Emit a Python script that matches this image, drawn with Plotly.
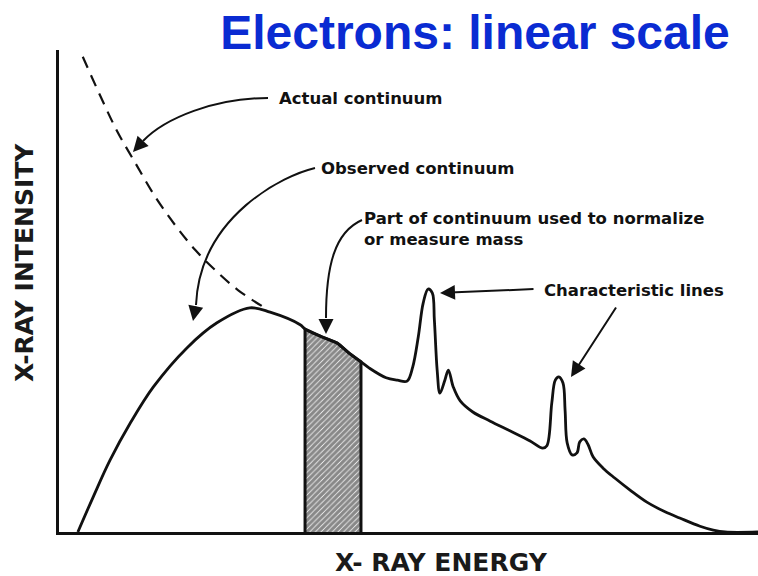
import plotly.graph_objects as go

# Observed X-ray spectrum (arbitrary units): bremsstrahlung hump plus two characteristic doublets
energy = [2.7, 4.9, 7.3, 10.2, 13.5, 18.3, 22.6, 27.3, 30.2, 34.5, 35.2, 37.6, 39.8, 41.5,
          43.2, 44.4, 46.8, 48.4, 49.8, 50.6, 51.4, 52.1, 52.8, 53.4, 53.7, 54.1, 54.5, 55.2,
          55.7, 56.4, 57.4, 59.2, 61.7, 64.5, 67.4, 69.2, 69.8, 70.5, 71.0, 71.5, 72.1, 72.4,
          72.7, 73.4, 74.1, 74.5, 75.1, 75.7, 76.4, 77.8, 79.5, 81.7, 84.1, 86.7, 88.8, 91.7,
          93.6, 95.3, 100]
observed = [0, 7.3, 14.9, 22.6, 30.1, 38.2, 43.4, 46.5, 45.6, 43.0, 42.1, 40.5, 39.2, 37.1,
            35.3, 34.0, 32.0, 31.5, 31.3, 34.2, 40.5, 47.5, 50.4, 49.6, 44.0, 33.6, 28.8, 31.5,
            33.6, 30.1, 27.2, 24.9, 23.0, 21.0, 18.9, 17.4, 17.9, 26.8, 31.5, 32.2, 30.9, 25.3,
            18.5, 16.0, 16.4, 18.7, 19.3, 18.1, 15.6, 13.3, 11.2, 8.7, 6.2, 4.2, 2.9, 1.2,
            0.4, 0, 0]

# Actual (unabsorbed) continuum at low energy
actual_energy = [3.4, 5.9, 8.3, 10.9, 13.7, 16.6, 19.5, 22.3, 25.6, 29.0]
actual_intensity = [98.6, 90.5, 83.2, 76.6, 69.7, 63.7, 58.5, 54.4, 50.2, 46.9]

# Window of the continuum used for normalisation
band_lo, band_hi = 35.2, 43.2

x_label = "X- RAY ENERGY"
y_label = "X-RAY INTENSITY"
title_text = "Electrons: linear scale"

W, H = 758, 576
M_L, M_R, M_T, M_B = 59, 0, 50, 44
X_RANGE = (0, 100)
Y_RANGE = (0, 100)


def at(px, py):
    """Figure pixel position -> axis units (used for annotation layout)."""
    x = X_RANGE[0] + (px - M_L) / (W - M_L - M_R) * (X_RANGE[1] - X_RANGE[0])
    y = Y_RANGE[0] + (H - M_B - py) / (H - M_T - M_B) * (Y_RANGE[1] - Y_RANGE[0])
    return x, y


def paper(px, py):
    """Figure pixel position -> paper fraction of the plot area."""
    return (px - M_L) / (W - M_L - M_R), (H - M_B - py) / (H - M_T - M_B)


band_pts = [(e, v) for e, v in zip(energy, observed) if band_lo <= e <= band_hi]
band_x = [band_lo] + [p[0] for p in band_pts] + [band_hi]
band_y = [0] + [p[1] for p in band_pts] + [0]

fig = go.Figure()

fig.add_trace(go.Scatter(
    x=band_x, y=band_y, mode="lines", fill="toself",
    fillpattern=dict(shape="/", fgcolor="#111111", bgcolor="white", size=4, solidity=0.8),
    line=dict(color="#111111", width=3), hoverinfo="skip", showlegend=False,
))
fig.add_trace(go.Scatter(
    x=actual_energy, y=actual_intensity, mode="lines",
    line=dict(color="#111111", width=2.2, dash="12px,8px", shape="spline"),
    showlegend=False,
))
fig.add_trace(go.Scatter(
    x=energy, y=observed, mode="lines",
    line=dict(color="#111111", width=2.8, shape="spline", smoothing=1.0),
    showlegend=False,
))

LBL_FONT = dict(family="DejaVu Sans", size=16.5, color="#111111", weight="bold")
AX_FONT = dict(family="DejaVu Sans", size=25, color="#1a1a1a", weight="bold")


def curve_path(p0, c1, c2, p1):
    pts = [at(*p) for p in (p0, c1, c2, p1)]
    return "M {},{} C {},{} {},{} {},{}".format(*[v for p in pts for v in p])


shapes = []
for seg in [
    ((268, 98), (215, 98), (165, 118), (143, 141)),
    ((315, 168), (285, 175), (200, 215), (196, 305)),
    ((362, 220), (335, 232), (326, 265), (326, 318)),
]:
    shapes.append(dict(type="path", xref="x", yref="y", path=curve_path(*seg),
                       line=dict(color="#111111", width=2)))

annotations = []
# arrow heads: (tip, tail offset in px)
for tip, off in [
    ((133, 152), (10, -11)),
    ((193, 321), (3, -16)),
    ((326, 334), (0, -16)),
    ((440, 293), (95, -4)),
    ((571, 377), (46, -71)),
]:
    x, y = at(*tip)
    annotations.append(dict(x=x, y=y, ax=off[0], ay=off[1], text="", showarrow=True,
                            arrowhead=2, arrowsize=1.5, arrowwidth=2, arrowcolor="#111111",
                            standoff=0))

for text, pos in [
    ("Actual continuum", (277, 98)),
    ("Observed continuum", (319, 168)),
    ("Part of continuum used to normalize<br>or measure mass", (362, 229)),
    ("Characteristic lines", (542, 290)),
]:
    x, y = at(*pos)
    annotations.append(dict(x=x, y=y, text=text, showarrow=False, xanchor="left",
                            yanchor="middle", align="left", font=LBL_FONT))

x, y = paper(441, 562)
annotations.append(dict(x=x, y=y, xref="paper", yref="paper", text=x_label,
                        showarrow=False, font=AX_FONT, xanchor="center", yanchor="middle"))
x, y = paper(24, 263)
annotations.append(dict(x=x, y=y, xref="paper", yref="paper", text=y_label,
                        showarrow=False, font=AX_FONT, textangle=-90,
                        xanchor="center", yanchor="middle"))

fig.update_layout(
    width=W, height=H,
    margin=dict(l=M_L, r=M_R, t=M_T, b=M_B),
    paper_bgcolor="white", plot_bgcolor="white",
    title=dict(text=title_text, xref="container", yref="container",
               x=475 / W, y=1 - 32 / H, xanchor="center", yanchor="middle",
               font=dict(family="Liberation Sans, Arial", size=48, color="#0a2bd2",
                         weight="bold")),
    xaxis=dict(range=list(X_RANGE), showline=True, linecolor="#111111", linewidth=2.5,
               showgrid=False, zeroline=False, showticklabels=False, ticks=""),
    yaxis=dict(range=list(Y_RANGE), showline=True, linecolor="#111111", linewidth=2.5,
               showgrid=False, zeroline=False, showticklabels=False, ticks=""),
    shapes=shapes,
    annotations=annotations,
)

fig.write_html("out.html")
